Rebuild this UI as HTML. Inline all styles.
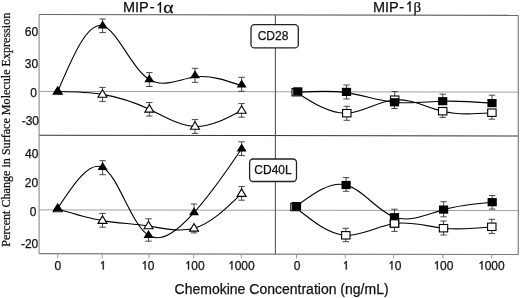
<!DOCTYPE html>
<html><head><meta charset="utf-8"><style>
html,body{margin:0;padding:0;background:#fff;}
svg{display:block;}
</style></head><body>
<svg width="520" height="298" viewBox="0 0 520 298">
<rect width="520" height="298" fill="#fff"/>
<path d="M39,91.4 L518,92.1 M39,209.9 L518,210.6" stroke="#a0a0a0" stroke-width="1" fill="none"/><path d="M39.1,14.5 L518.3,15.4" stroke="#6a6a6a" stroke-width="1.2" fill="none"/><path d="M39.1,253.7 L518.3,254.5" stroke="#7a7a7a" stroke-width="1.2" fill="none"/><path d="M39.1,135.2 L518.3,136" stroke="#333" stroke-width="1.1" fill="none"/><path d="M39.1,14.5 V253.7" stroke="#8a8a8a" stroke-width="1.1" fill="none"/><path d="M518.3,15.4 V254.5" stroke="#8a8a8a" stroke-width="1.3" fill="none"/><path d="M275.4,14.9 V254.1" stroke="#555" stroke-width="1.1" fill="none"/><path d="M57.7,253.63 V258.3 M102.2,253.71 V258.3 M149,253.78 V258.3 M193.7,253.86 V258.3 M241.3,253.94 V258.3 M296.5,254.03 V258.3 M345.3,254.11 V258.3 M393.6,254.19 V258.3 M442.9,254.27 V258.3 M491.6,254.36 V258.3" stroke="#999" stroke-width="1" fill="none"/><path d="M57.70,91.50 C72.61,91.71 87.53,91.93 102.50,94.40 C118.16,96.99 133.89,102.05 149.30,109.30 C164.66,116.53 179.71,125.93 195.00,126.50 C210.37,127.08 225.98,118.74 241.60,110.40" fill="none" stroke="#000" stroke-width="1.1"/><path d="M57.70,91.50 C72.55,56.58 87.39,21.65 102.60,25.80 C116.98,29.72 131.68,68.59 149.30,79.50 C163.43,88.25 179.44,79.02 195.00,77.00 C210.84,74.95 226.22,80.37 241.60,85.80" fill="none" stroke="#000" stroke-width="1.1"/><path d="M57.70,209.00 C72.55,213.53 87.39,218.06 102.50,220.60 C117.62,223.14 132.99,223.68 148.50,226.00 C163.88,228.30 179.38,232.34 194.00,228.30 C210.63,223.70 226.11,208.65 241.60,193.60" fill="none" stroke="#000" stroke-width="1.1"/><path d="M57.70,208.30 C73.41,184.47 89.13,160.64 102.60,167.40 C118.25,175.26 130.88,224.40 148.50,235.30 C162.38,243.89 179.36,228.75 194.00,212.60 C212.31,192.39 226.96,170.60 241.60,148.80" fill="none" stroke="#000" stroke-width="1.1"/><path d="M296.20,92.20 C313.10,103.12 329.99,114.03 346.80,113.20 C362.82,112.41 378.75,100.95 394.70,99.70 C410.58,98.46 426.49,107.35 442.70,111.20 C458.89,115.05 475.40,113.87 491.90,112.70" fill="none" stroke="#000" stroke-width="1.1"/><path d="M297.80,92.30 C314.12,91.29 330.44,90.28 346.50,92.60 C362.61,94.93 378.46,100.61 394.50,102.30 C410.41,103.98 426.51,101.73 442.70,101.20 C459.07,100.66 475.54,101.88 492.00,103.10" fill="none" stroke="#000" stroke-width="1.1"/><path d="M295.00,207.00 C311.80,220.70 328.60,234.41 345.80,235.30 C361.76,236.13 378.07,225.91 394.50,223.50 C410.78,221.11 427.19,226.39 443.50,228.20 C459.66,230.00 475.73,228.40 491.80,226.80" fill="none" stroke="#000" stroke-width="1.1"/><path d="M296.50,206.10 C313.41,193.54 330.32,180.97 346.10,185.00 C362.49,189.18 377.67,211.26 394.50,217.20 C410.06,222.69 427.04,214.40 443.60,209.60 C460.07,204.83 476.14,203.51 492.20,202.20" fill="none" stroke="#000" stroke-width="1.1"/><path d="M102.50,87.40 V101.40 M99.30,87.40 H105.70 M99.30,101.40 H105.70" stroke="#333" stroke-width="0.9" fill="none"/><path d="M149.30,102.50 V116.10 M146.10,102.50 H152.50 M146.10,116.10 H152.50" stroke="#333" stroke-width="0.9" fill="none"/><path d="M195.00,119.60 V133.40 M191.80,119.60 H198.20 M191.80,133.40 H198.20" stroke="#333" stroke-width="0.9" fill="none"/><path d="M241.60,103.60 V117.20 M238.40,103.60 H244.80 M238.40,117.20 H244.80" stroke="#333" stroke-width="0.9" fill="none"/><path d="M102.60,19.00 V32.60 M99.40,19.00 H105.80 M99.40,32.60 H105.80" stroke="#333" stroke-width="0.9" fill="none"/><path d="M149.30,72.60 V86.50 M146.10,72.60 H152.50 M146.10,86.50 H152.50" stroke="#333" stroke-width="0.9" fill="none"/><path d="M195.00,68.30 V82.40 M191.80,68.30 H198.20 M191.80,82.40 H198.20" stroke="#333" stroke-width="0.9" fill="none"/><path d="M241.60,77.30 V91.30 M238.40,77.30 H244.80 M238.40,91.30 H244.80" stroke="#333" stroke-width="0.9" fill="none"/><path d="M102.50,213.40 V227.20 M99.30,213.40 H105.70 M99.30,227.20 H105.70" stroke="#333" stroke-width="0.9" fill="none"/><path d="M148.50,218.80 V226.00 M145.30,218.80 H151.70 M145.30,226.00 H151.70" stroke="#333" stroke-width="0.9" fill="none"/><path d="M194.00,228.30 V232.90 M190.80,228.30 H197.20 M190.80,232.90 H197.20" stroke="#333" stroke-width="0.9" fill="none"/><path d="M241.60,186.60 V200.20 M238.40,186.60 H244.80 M238.40,200.20 H244.80" stroke="#333" stroke-width="0.9" fill="none"/><path d="M102.60,160.70 V174.70 M99.40,160.70 H105.80 M99.40,174.70 H105.80" stroke="#333" stroke-width="0.9" fill="none"/><path d="M148.50,235.30 V241.20 M145.30,235.30 H151.70 M145.30,241.20 H151.70" stroke="#333" stroke-width="0.9" fill="none"/><path d="M194.00,204.00 V212.60 M190.80,204.00 H197.20 M190.80,212.60 H197.20" stroke="#333" stroke-width="0.9" fill="none"/><path d="M241.60,141.80 V155.60 M238.40,141.80 H244.80 M238.40,155.60 H244.80" stroke="#333" stroke-width="0.9" fill="none"/><path d="M346.80,106.30 V120.30 M343.60,106.30 H350.00 M343.60,120.30 H350.00" stroke="#333" stroke-width="0.9" fill="none"/><path d="M394.70,91.50 V99.70 M391.50,91.50 H397.90 M391.50,99.70 H397.90" stroke="#333" stroke-width="0.9" fill="none"/><path d="M442.70,111.20 V117.40 M439.50,111.20 H445.90 M439.50,117.40 H445.90" stroke="#333" stroke-width="0.9" fill="none"/><path d="M491.90,112.70 V119.20 M488.70,112.70 H495.10 M488.70,119.20 H495.10" stroke="#333" stroke-width="0.9" fill="none"/><path d="M346.50,85.00 V99.00 M343.30,85.00 H349.70 M343.30,99.00 H349.70" stroke="#333" stroke-width="0.9" fill="none"/><path d="M394.50,102.30 V108.50 M391.30,102.30 H397.70 M391.30,108.50 H397.70" stroke="#333" stroke-width="0.9" fill="none"/><path d="M442.70,94.20 V101.20 M439.50,94.20 H445.90 M439.50,101.20 H445.90" stroke="#333" stroke-width="0.9" fill="none"/><path d="M492.00,95.20 V103.10 M488.80,95.20 H495.20 M488.80,103.10 H495.20" stroke="#333" stroke-width="0.9" fill="none"/><path d="M345.80,228.30 V241.70 M342.60,228.30 H349.00 M342.60,241.70 H349.00" stroke="#333" stroke-width="0.9" fill="none"/><path d="M394.50,223.50 V231.40 M391.30,223.50 H397.70 M391.30,231.40 H397.70" stroke="#333" stroke-width="0.9" fill="none"/><path d="M443.50,221.00 V235.00 M440.30,221.00 H446.70 M440.30,235.00 H446.70" stroke="#333" stroke-width="0.9" fill="none"/><path d="M491.80,219.30 V233.40 M488.60,219.30 H495.00 M488.60,233.40 H495.00" stroke="#333" stroke-width="0.9" fill="none"/><path d="M346.10,177.60 V191.30 M342.90,177.60 H349.30 M342.90,191.30 H349.30" stroke="#333" stroke-width="0.9" fill="none"/><path d="M394.50,209.20 V217.20 M391.30,209.20 H397.70 M391.30,217.20 H397.70" stroke="#333" stroke-width="0.9" fill="none"/><path d="M443.60,201.70 V216.80 M440.40,201.70 H446.80 M440.40,216.80 H446.80" stroke="#333" stroke-width="0.9" fill="none"/><path d="M492.20,195.50 V209.10 M489.00,195.50 H495.40 M489.00,209.10 H495.40" stroke="#333" stroke-width="0.9" fill="none"/><path d="M57.70,86.80 L62.20,94.30 L53.20,94.30Z" fill="#fff" stroke="#000" stroke-width="1.1" stroke-linejoin="miter"/><path d="M102.50,89.70 L107.00,97.20 L98.00,97.20Z" fill="#fff" stroke="#000" stroke-width="1.1" stroke-linejoin="miter"/><path d="M149.30,104.60 L153.80,112.10 L144.80,112.10Z" fill="#fff" stroke="#000" stroke-width="1.1" stroke-linejoin="miter"/><path d="M195.00,121.80 L199.50,129.30 L190.50,129.30Z" fill="#fff" stroke="#000" stroke-width="1.1" stroke-linejoin="miter"/><path d="M241.60,105.70 L246.10,113.20 L237.10,113.20Z" fill="#fff" stroke="#000" stroke-width="1.1" stroke-linejoin="miter"/><path d="M57.70,86.20 L62.70,94.20 L52.70,94.20Z" fill="#000"/><path d="M102.60,20.50 L107.60,28.50 L97.60,28.50Z" fill="#000"/><path d="M149.30,74.20 L154.30,82.20 L144.30,82.20Z" fill="#000"/><path d="M195.00,70.30 L200.00,78.30 L190.00,78.30Z" fill="#000"/><path d="M241.60,79.50 L246.60,87.50 L236.60,87.50Z" fill="#000"/><path d="M57.70,204.30 L62.20,211.80 L53.20,211.80Z" fill="#fff" stroke="#000" stroke-width="1.1" stroke-linejoin="miter"/><path d="M102.50,215.90 L107.00,223.40 L98.00,223.40Z" fill="#fff" stroke="#000" stroke-width="1.1" stroke-linejoin="miter"/><path d="M148.50,221.30 L153.00,228.80 L144.00,228.80Z" fill="#fff" stroke="#000" stroke-width="1.1" stroke-linejoin="miter"/><path d="M194.00,223.60 L198.50,231.10 L189.50,231.10Z" fill="#fff" stroke="#000" stroke-width="1.1" stroke-linejoin="miter"/><path d="M241.60,188.90 L246.10,196.40 L237.10,196.40Z" fill="#fff" stroke="#000" stroke-width="1.1" stroke-linejoin="miter"/><path d="M57.70,203.00 L62.70,211.00 L52.70,211.00Z" fill="#000"/><path d="M102.60,162.10 L107.60,170.10 L97.60,170.10Z" fill="#000"/><path d="M148.50,230.00 L153.50,238.00 L143.50,238.00Z" fill="#000"/><path d="M194.00,207.30 L199.00,215.30 L189.00,215.30Z" fill="#000"/><path d="M241.60,143.50 L246.60,151.50 L236.60,151.50Z" fill="#000"/><rect x="292.00" y="88.50" width="8.4" height="7.4" fill="#fff" stroke="#000" stroke-width="1.1"/><rect x="342.60" y="109.50" width="8.4" height="7.4" fill="#fff" stroke="#000" stroke-width="1.1"/><rect x="390.50" y="96.00" width="8.4" height="7.4" fill="#fff" stroke="#000" stroke-width="1.1"/><rect x="438.50" y="107.50" width="8.4" height="7.4" fill="#fff" stroke="#000" stroke-width="1.1"/><rect x="487.70" y="109.00" width="8.4" height="7.4" fill="#fff" stroke="#000" stroke-width="1.1"/><rect x="293.20" y="87.30" width="9.2" height="8.2" fill="#000"/><rect x="341.90" y="87.80" width="9.2" height="8.2" fill="#000"/><rect x="389.90" y="98.20" width="9.2" height="8.2" fill="#000"/><rect x="438.10" y="97.10" width="9.2" height="8.2" fill="#000"/><rect x="487.40" y="99.00" width="9.2" height="8.2" fill="#000"/><rect x="290.80" y="203.30" width="8.4" height="7.4" fill="#fff" stroke="#000" stroke-width="1.1"/><rect x="341.60" y="231.60" width="8.4" height="7.4" fill="#fff" stroke="#000" stroke-width="1.1"/><rect x="390.30" y="219.80" width="8.4" height="7.4" fill="#fff" stroke="#000" stroke-width="1.1"/><rect x="439.30" y="224.50" width="8.4" height="7.4" fill="#fff" stroke="#000" stroke-width="1.1"/><rect x="487.60" y="223.10" width="8.4" height="7.4" fill="#fff" stroke="#000" stroke-width="1.1"/><rect x="291.90" y="202.00" width="9.2" height="8.2" fill="#000"/><rect x="341.50" y="180.90" width="9.2" height="8.2" fill="#000"/><rect x="389.90" y="213.10" width="9.2" height="8.2" fill="#000"/><rect x="439.00" y="205.50" width="9.2" height="8.2" fill="#000"/><rect x="487.60" y="198.10" width="9.2" height="8.2" fill="#000"/><rect x="390.30" y="219.80" width="8.4" height="7.4" fill="#fff" stroke="#000" stroke-width="1.1"/><rect x="251" y="24.6" width="47.3" height="23.3" rx="3.5" fill="#fff" stroke="#222" stroke-width="1.3"/><rect x="249.6" y="159" width="46.9" height="22.5" rx="3.5" fill="#fff" stroke="#222" stroke-width="1.3"/>
<g fill="#111" stroke="#111" stroke-width="0.25" style="will-change:transform"><text x="273" y="39.6" text-anchor="middle" style="font-family:'Liberation Sans',sans-serif;font-size:12px">CD28</text><text x="273" y="174.2" text-anchor="middle" style="font-family:'Liberation Sans',sans-serif;font-size:12px">CD40L</text><text x="122.9" y="12.4" style="font-family:'Liberation Sans',sans-serif;font-size:14.5px">MIP</text><text x="149.7" y="12.4" style="font-family:'Liberation Sans',sans-serif;font-size:14.5px">-</text><path d="M161.01,12.40 L159.73,12.40 L159.73,4.28 C159.43,4.57 159.02,4.86 158.51,5.16 C158.15,5.45 157.78,5.64 157.63,5.76 L157.63,4.56 C157.85,4.27 158.46,3.87 158.98,3.41 C159.50,2.95 159.88,2.48 160.09,2.02 L161.01,2.02 Z"/><text transform="translate(163.3,12.6) scale(1.3,1.06)" style="font-family:'Liberation Serif',serif;font-size:15px">α</text><text x="372.9" y="11.6" style="font-family:'Liberation Sans',sans-serif;font-size:14.5px">MIP</text><text x="399.3" y="11.6" style="font-family:'Liberation Sans',sans-serif;font-size:14.5px">-</text><path d="M410.61,11.60 L409.33,11.60 L409.33,3.48 C409.03,3.77 408.62,4.06 408.11,4.36 C407.75,4.65 407.38,4.84 407.23,4.96 L407.23,3.76 C407.45,3.47 408.06,3.07 408.58,2.61 C409.10,2.15 409.48,1.68 409.69,1.22 L410.61,1.22 Z"/><text transform="translate(413.6,11.6)" style="font-family:'Liberation Serif',serif;font-size:15px">β</text><text x="38.2" y="35.9" text-anchor="end" style="font-family:'Liberation Sans',sans-serif;font-size:12px">60</text><text x="38.1" y="67.6" text-anchor="end" style="font-family:'Liberation Sans',sans-serif;font-size:12px">30</text><text x="37" y="96.6" text-anchor="end" style="font-family:'Liberation Sans',sans-serif;font-size:12px">0</text><text x="39" y="125.2" text-anchor="end" style="font-family:'Liberation Sans',sans-serif;font-size:12px">-30</text><text x="38.4" y="157.6" text-anchor="end" style="font-family:'Liberation Sans',sans-serif;font-size:12px">40</text><text x="38.1" y="187.3" text-anchor="end" style="font-family:'Liberation Sans',sans-serif;font-size:12px">20</text><text x="36.4" y="215.5" text-anchor="end" style="font-family:'Liberation Sans',sans-serif;font-size:12px">0</text><text x="38.3" y="247.8" text-anchor="end" style="font-family:'Liberation Sans',sans-serif;font-size:12px">-20</text><text x="54.56" y="269.5" style="font-family:'Liberation Sans',sans-serif;font-size:12px">0</text><path d="M103.79,269.50 L102.73,269.50 L102.73,262.78 C102.48,263.02 102.15,263.26 101.73,263.51 C101.43,263.75 101.11,263.91 100.99,264.00 L100.99,263.01 C101.17,262.77 101.68,262.44 102.11,262.06 C102.54,261.68 102.85,261.29 103.03,260.91 L103.79,260.91 Z"/><path d="M145.65,269.50 L144.60,269.50 L144.60,262.78 C144.35,263.02 144.01,263.26 143.59,263.51 C143.29,263.75 142.98,263.91 142.86,264.00 L142.86,263.01 C143.04,262.77 143.54,262.44 143.97,262.06 C144.41,261.68 144.72,261.29 144.90,260.91 L145.65,260.91 Z"/><text x="147.85" y="269.5" style="font-family:'Liberation Sans',sans-serif;font-size:12px">0</text><path d="M189.07,269.50 L188.01,269.50 L188.01,262.78 C187.76,263.02 187.42,263.26 187.00,263.51 C186.70,263.75 186.39,263.91 186.27,264.00 L186.27,263.01 C186.45,262.77 186.96,262.44 187.39,262.06 C187.82,261.68 188.13,261.29 188.31,260.91 L189.07,260.91 Z"/><text x="191.26" y="269.5" style="font-family:'Liberation Sans',sans-serif;font-size:12px">00</text><path d="M232.43,269.50 L231.38,269.50 L231.38,262.78 C231.12,263.02 230.79,263.26 230.37,263.51 C230.07,263.75 229.76,263.91 229.64,264.00 L229.64,263.01 C229.82,262.77 230.32,262.44 230.75,262.06 C231.18,261.68 231.50,261.29 231.68,260.91 L232.43,260.91 Z"/><text x="234.63" y="269.5" style="font-family:'Liberation Sans',sans-serif;font-size:12px">000</text><text x="293.81" y="269.5" style="font-family:'Liberation Sans',sans-serif;font-size:12px">0</text><path d="M346.79,269.50 L345.73,269.50 L345.73,262.78 C345.48,263.02 345.15,263.26 344.73,263.51 C344.43,263.75 344.11,263.91 343.99,264.00 L343.99,263.01 C344.17,262.77 344.68,262.44 345.11,262.06 C345.54,261.68 345.85,261.29 346.03,260.91 L346.79,260.91 Z"/><path d="M392.45,269.50 L391.40,269.50 L391.40,262.78 C391.15,263.02 390.81,263.26 390.39,263.51 C390.09,263.75 389.78,263.91 389.66,264.00 L389.66,263.01 C389.84,262.77 390.34,262.44 390.77,262.06 C391.21,261.68 391.52,261.29 391.70,260.91 L392.45,260.91 Z"/><text x="394.65" y="269.5" style="font-family:'Liberation Sans',sans-serif;font-size:12px">0</text><path d="M437.82,269.50 L436.76,269.50 L436.76,262.78 C436.51,263.02 436.17,263.26 435.75,263.51 C435.45,263.75 435.14,263.91 435.02,264.00 L435.02,263.01 C435.20,262.77 435.71,262.44 436.14,262.06 C436.57,261.68 436.88,261.29 437.06,260.91 L437.82,260.91 Z"/><text x="440.01" y="269.5" style="font-family:'Liberation Sans',sans-serif;font-size:12px">00</text><path d="M482.48,269.50 L481.43,269.50 L481.43,262.78 C481.17,263.02 480.84,263.26 480.42,263.51 C480.12,263.75 479.81,263.91 479.69,264.00 L479.69,263.01 C479.87,262.77 480.37,262.44 480.80,262.06 C481.23,261.68 481.55,261.29 481.73,260.91 L482.48,260.91 Z"/><text x="484.68" y="269.5" style="font-family:'Liberation Sans',sans-serif;font-size:12px">000</text><text x="174.6" y="293.7" style="font-family:'Liberation Sans',sans-serif;font-size:14px">Chemokine Concentration (ng/mL)</text><text transform="translate(9.6,246.8) rotate(-90)" x="0" y="0" style="font-family:'Liberation Serif',serif;font-size:12.1px">Percent Change in Surface Molecule Expression</text></g>
</svg>
</body></html>
